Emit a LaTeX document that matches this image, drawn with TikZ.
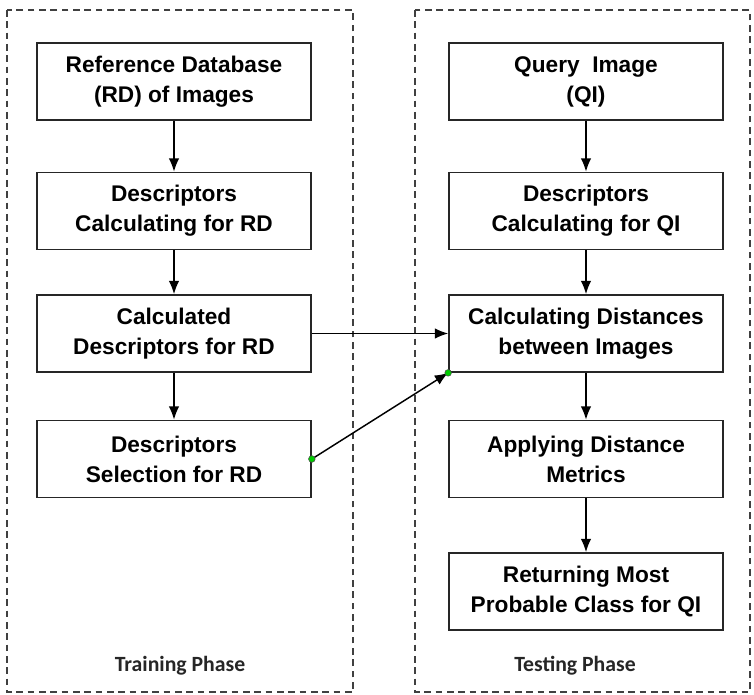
\documentclass[tikz,border=0pt]{standalone}
\usepackage{fontspec}
\setmainfont{Liberation Sans}
\newfontfamily\labfont{Carlito}
\usetikzlibrary{arrows.meta}
\begin{document}
\begin{tikzpicture}[x=0.75pt,y=-0.75pt,
  stepbox/.style={draw=black!85,line width=1.3pt,minimum width=274*0.75pt,minimum height=77*0.75pt,
    align=center,font=\fontsize{17}{22.5}\selectfont\bfseries,inner sep=0pt},
  frame/.style={draw=black!75,line width=1.3pt,dash pattern=on 5pt off 3.5pt},
  conn/.style={line width=1.1pt,-{Latex[length=10pt,width=8pt]}},
  phase/.style={font=\labfont\fontsize{16.3}{19}\selectfont\bfseries,text=black!85},
  gdot/.style={circle,fill=green!80!black,draw=black!70,line width=0.4pt,inner sep=0pt,minimum size=5pt}]
\useasboundingbox (0,0) rectangle (754,695);
\fill[white] (0,0) rectangle (754,695);
\draw[frame] (7,10) rectangle (353,692);
\draw[frame] (415,10) rectangle (750,692);
% left column
\node[stepbox] (l1) at (174,81.5) {Reference Database\\(RD) of Images};
\node[stepbox] (l2) at (174,211) {Descriptors\\Calculating for RD};
\node[stepbox] (l3) at (174,333.5) {Calculated\\Descriptors for RD};
\node[stepbox] (l4) at (174,459) {Descriptors\\Selection for RD};
% right column
\node[stepbox] (r1) at (586,81.5) {Query~ Image\\(QI)};
\node[stepbox] (r2) at (586,211) {Descriptors\\Calculating for QI};
\node[stepbox] (r3) at (586,333.5) {Calculating Distances\\between Images};
\node[stepbox] (r4) at (586,459) {Applying Distance\\Metrics};
\node[stepbox] (r5) at (586,591.5) {Returning Most\\Probable Class for QI};
\node[phase] (tp) at (180,666) {Training Phase};
\node[phase] (ts) at (575,666) {Testing Phase};
\draw[conn] (l1) -- (l2);
\draw[conn] (l2) -- (l3);
\draw[conn] (l3) -- (l4);
\draw[conn] (r1) -- (r2);
\draw[conn] (r2) -- (r3);
\draw[conn] (r3) -- (r4);
\draw[conn] (r4) -- (r5);
\draw[conn] (l3.east) -- (r3.west);
\draw[conn] (l4.east) -- (r3.south west);
\node[gdot] (d1) at (l4.east) {};
\node[gdot] (d2) at (r3.south west) {};
\end{tikzpicture}
\end{document}
